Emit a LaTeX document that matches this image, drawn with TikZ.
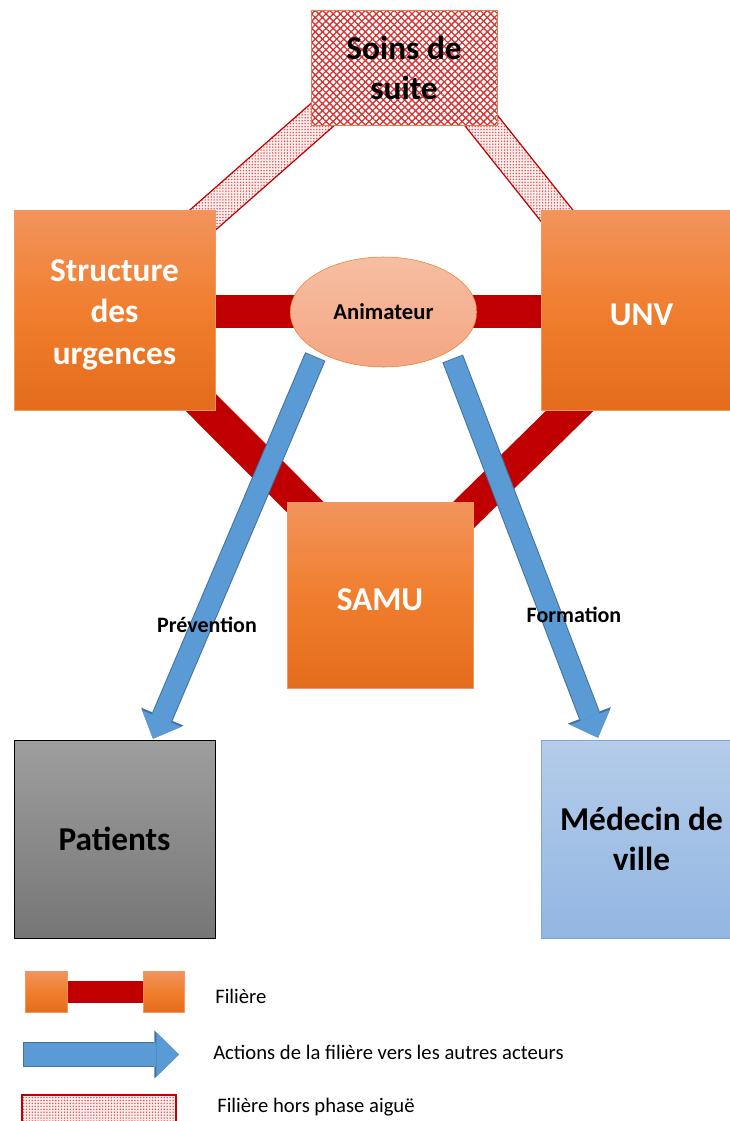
\documentclass[tikz,border=0pt]{standalone}
\usepackage{fontspec}
\setmainfont{Carlito}
\usetikzlibrary{calc,shapes.geometric,arrows.meta,patterns.meta,backgrounds}
\definecolor{filred}{RGB}{192,0,0}
\definecolor{orgtop}{RGB}{242,148,92}
\definecolor{orgmid}{RGB}{240,126,46}
\definecolor{orgbot}{RGB}{228,108,28}
\definecolor{orgedge}{RGB}{244,150,96}
\definecolor{animtop}{RGB}{246,190,163}
\definecolor{animbot}{RGB}{244,166,130}
\definecolor{animedge}{RGB}{237,125,49}
\definecolor{actblue}{RGB}{91,155,213}
\definecolor{actedge}{RGB}{65,113,156}
\definecolor{hatchred}{RGB}{212,52,52}
\definecolor{soinsedge}{RGB}{236,120,80}
\definecolor{pattop}{RGB}{158,158,158}
\definecolor{patbot}{RGB}{118,118,118}
\definecolor{medtop}{RGB}{181,204,234}
\definecolor{medbot}{RGB}{146,182,226}
\definecolor{mededge}{RGB}{125,166,218}
\tikzset{
% Boxes: the filiere (orange), the other actors, the soins de suite
filiere box/.style={rectangle,draw=orgedge,top color=orgtop,bottom color=orgbot,middle color=orgmid,inner sep=0},
filiere text/.style={text=white,font=\fontsize{25}{31}\selectfont\bfseries,align=center,inner sep=0,yshift=-3.5pt},
patient box/.style={rectangle,draw=black,top color=pattop,bottom color=patbot,
  font=\fontsize{25}{30}\selectfont\bfseries,align=center,inner sep=0},
medecin box/.style={rectangle,draw=mededge,top color=medtop,bottom color=medbot,
  font=\fontsize{25}{30}\selectfont\bfseries,align=center,inner sep=0},
soins box/.style={rectangle,draw=soinsedge,preaction={fill=white},
  preaction={pattern={Lines[angle=45,distance=3.8pt,line width=1pt]},pattern color=hatchred},
  pattern={Lines[angle=-45,distance=3.8pt,line width=1pt]},pattern color=hatchred,
  font=\fontsize{25}{30}\selectfont\bfseries,align=center,inner sep=0},
animateur/.style={ellipse,draw=animedge,top color=animtop,bottom color=animbot,
  minimum width=140pt,minimum height=82.5pt,inner sep=0,font=\fontsize{17}{20}\selectfont\bfseries},
% Links
filiere/.style={draw=filred,line width=25pt},
hors phase/.style={draw=filred,line width=0.9pt,preaction={fill=red!7},
  pattern={Dots[radius=0.6pt,distance=2.2pt]},pattern color=hatchred!85},
action/.style={draw=actblue,line width=15pt,-{Triangle[width=32pt,length=16.5pt,line width=0pt]},
  preaction={draw=actedge,line width=16.5pt,shorten <=-0.6pt,-{Triangle[width=34.5pt,length=18pt,line width=0pt]}}},
action key/.style={draw=actblue,line width=17pt,-{Triangle[width=33.5pt,length=17pt,line width=0pt]},
  preaction={draw=actedge,line width=18.5pt,shorten <=-0.6pt,-{Triangle[width=36pt,length=18.5pt,line width=0pt]}}},
label text/.style={font=\fontsize{16.5}{19}\selectfont\bfseries,inner sep=0},
legend text/.style={anchor=west,font=\fontsize{15.5}{18}\selectfont,inner sep=0}
}

\begin{document}
\begin{tikzpicture}[x=0.75pt,y=-0.75pt]
\useasboundingbox (0,0) rectangle (730,1121);

% actors
\node[soins box,minimum width=139.5pt,minimum height=86.25pt] (soins) at (404,67.5) {Soins de\\suite};
\node[filiere box,minimum width=150.75pt,minimum height=150pt,
  label={[filiere text]center:{Structure\\des\\urgences}}] (su) at (114.5,310) {};
\node[filiere box,minimum width=150.75pt,minimum height=150pt,
  label={[filiere text]center:UNV}] (unv) at (641.5,310) {};
\node[animateur] (anim) at (383.5,312) {Animateur};
\node[filiere box,minimum width=139.5pt,minimum height=139.5pt,
  label={[filiere text]center:SAMU}] (samu) at (380,595) {};
\node[patient box,minimum width=150.75pt,minimum height=148.5pt] (pat) at (114.5,839) {Patients};
\node[medecin box,minimum width=150.75pt,minimum height=148.5pt] (med) at (641.5,839) {Médecin de\\ville};

% filiere and hors phase links, behind the boxes
\begin{pgfonlayer}{background}
\draw[filiere] ($(su)+(0,1.5)$) -- ($(unv)+(0,1.5)$);
\draw[filiere] ($(su)+(-6,0)$) -- ($(samu.center)+(13,0)$);
\draw[filiere] ($(unv)+(31,0)$) -- ($(samu.center)+(2,0)$);
\coordinate (hl1) at ($(su)+(-14,0)$);
\coordinate (hl2) at ($(soins)+(-28,0)$);
\coordinate (hr1) at ($(soins)+(35,0)$);
\coordinate (hr2) at ($(unv)+(-9.5,0)$);
\draw[hors phase] ($(hl1)!12pt!90:(hl2)$) -- ($(hl2)!12pt!-90:(hl1)$)
  -- ($(hl2)!12pt!90:(hl1)$) -- ($(hl1)!12pt!-90:(hl2)$) -- cycle;
\draw[hors phase] ($(hr1)!12pt!90:(hr2)$) -- ($(hr2)!12pt!-90:(hr1)$)
  -- ($(hr2)!12pt!90:(hr1)$) -- ($(hr1)!12pt!-90:(hr2)$) -- cycle;
\end{pgfonlayer}

% actions
\draw[action] ($(anim.south)+(-68.5,-10)$) -- ($(pat.north)+(38.5,-1)$);
\draw[action] ($(anim.south)+(69.5,-8)$) -- ($(med.north)+(-43.5,-2)$);
\node[label text] (prev) at (207,625) {Prévention};
\node[label text] (form) at (574,615) {Formation};

% legend
\node[filiere box,minimum width=31.5pt,minimum height=30.75pt] (lf1) at (46,991.5) {};
\node[filiere box,minimum width=30.75pt,minimum height=30.75pt] (lf2) at (163.5,991.5) {};
\begin{pgfonlayer}{background}
\draw[filiere,line width=16.5pt] (lf1) -- (lf2);
\end{pgfonlayer}
\node[legend text] (lt1) at (215,996) {Filière};
\coordinate (la1) at (24,1054.5);
\coordinate (la2) at (179,1054.5);
\draw[action key] (la1) -- (la2);
\node[legend text] (lt2) at (213,1052) {Actions de la filière vers les autres acteurs};
\draw[hors phase] (22,1095) rectangle (176,1125);
\node[legend text] (lt3) at (217,1107) {Filière hors phase aiguë};
\end{tikzpicture}
\end{document}
